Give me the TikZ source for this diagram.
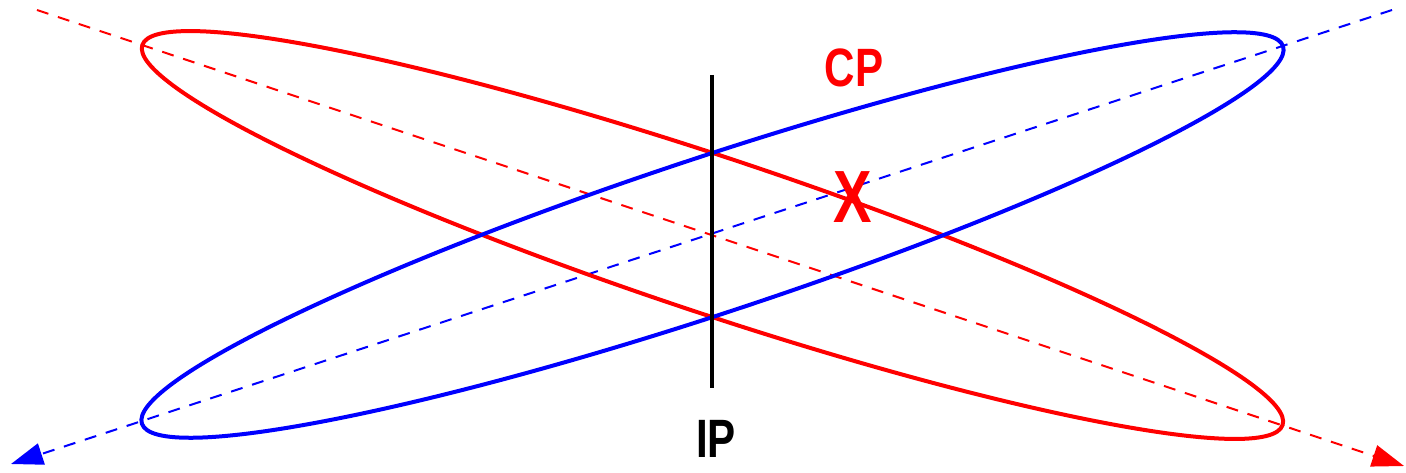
\documentclass[tikz,border=0pt]{standalone}
\usepackage{fontspec}
\newfontfamily\labelfont{Liberation Sans}[FakeStretch=0.78]
\usetikzlibrary{arrows.meta}

\begin{document}
\begin{tikzpicture}[
  x=0.5pt, y=0.5pt,
  beam/.style={line width=2pt},
  axis/.style={line width=1pt, dash pattern=on 6pt off 5pt, -{Triangle[length=16pt,width=11pt]}},
  tag/.style={font=\labelfont\bfseries\fontsize{27}{30}\selectfont, inner sep=0pt}
]
  \useasboundingbox (0,0) rectangle (1406,472);
  \coordinate (centre) at (712.5,237);

  % beam axes
  \coordinate (redstart) at (37,462);
  \coordinate (redend) at (1404,6);
  \coordinate (bluestart) at (1392,462);
  \coordinate (blueend) at (11,8);
  \draw[axis, red] (redstart) -- (redend);
  \draw[axis, blue] (bluestart) -- (blueend);

  % bunches
  \draw[beam, red, rotate around={-18.43:(centre)}] (centre) ellipse [x radius=300.5pt, y radius=39pt];
  \draw[beam, blue, rotate around={18.3:(centre)}] (centre) ellipse [x radius=300.5pt, y radius=39pt];

  % interaction plane
  \coordinate (iptop) at (712,397);
  \coordinate (ipbottom) at (712,84);
  \draw[line width=2.4pt] (iptop) -- (ipbottom);
  \node[tag] (ip) at (716,33) {IP};

  \node[tag, red] (cp) at (854,404) {CP};
  \node[tag, red, font=\labelfont\bfseries\fontsize{37}{40}\selectfont] (cross) at (853,275) {X};
\end{tikzpicture}
\end{document}
